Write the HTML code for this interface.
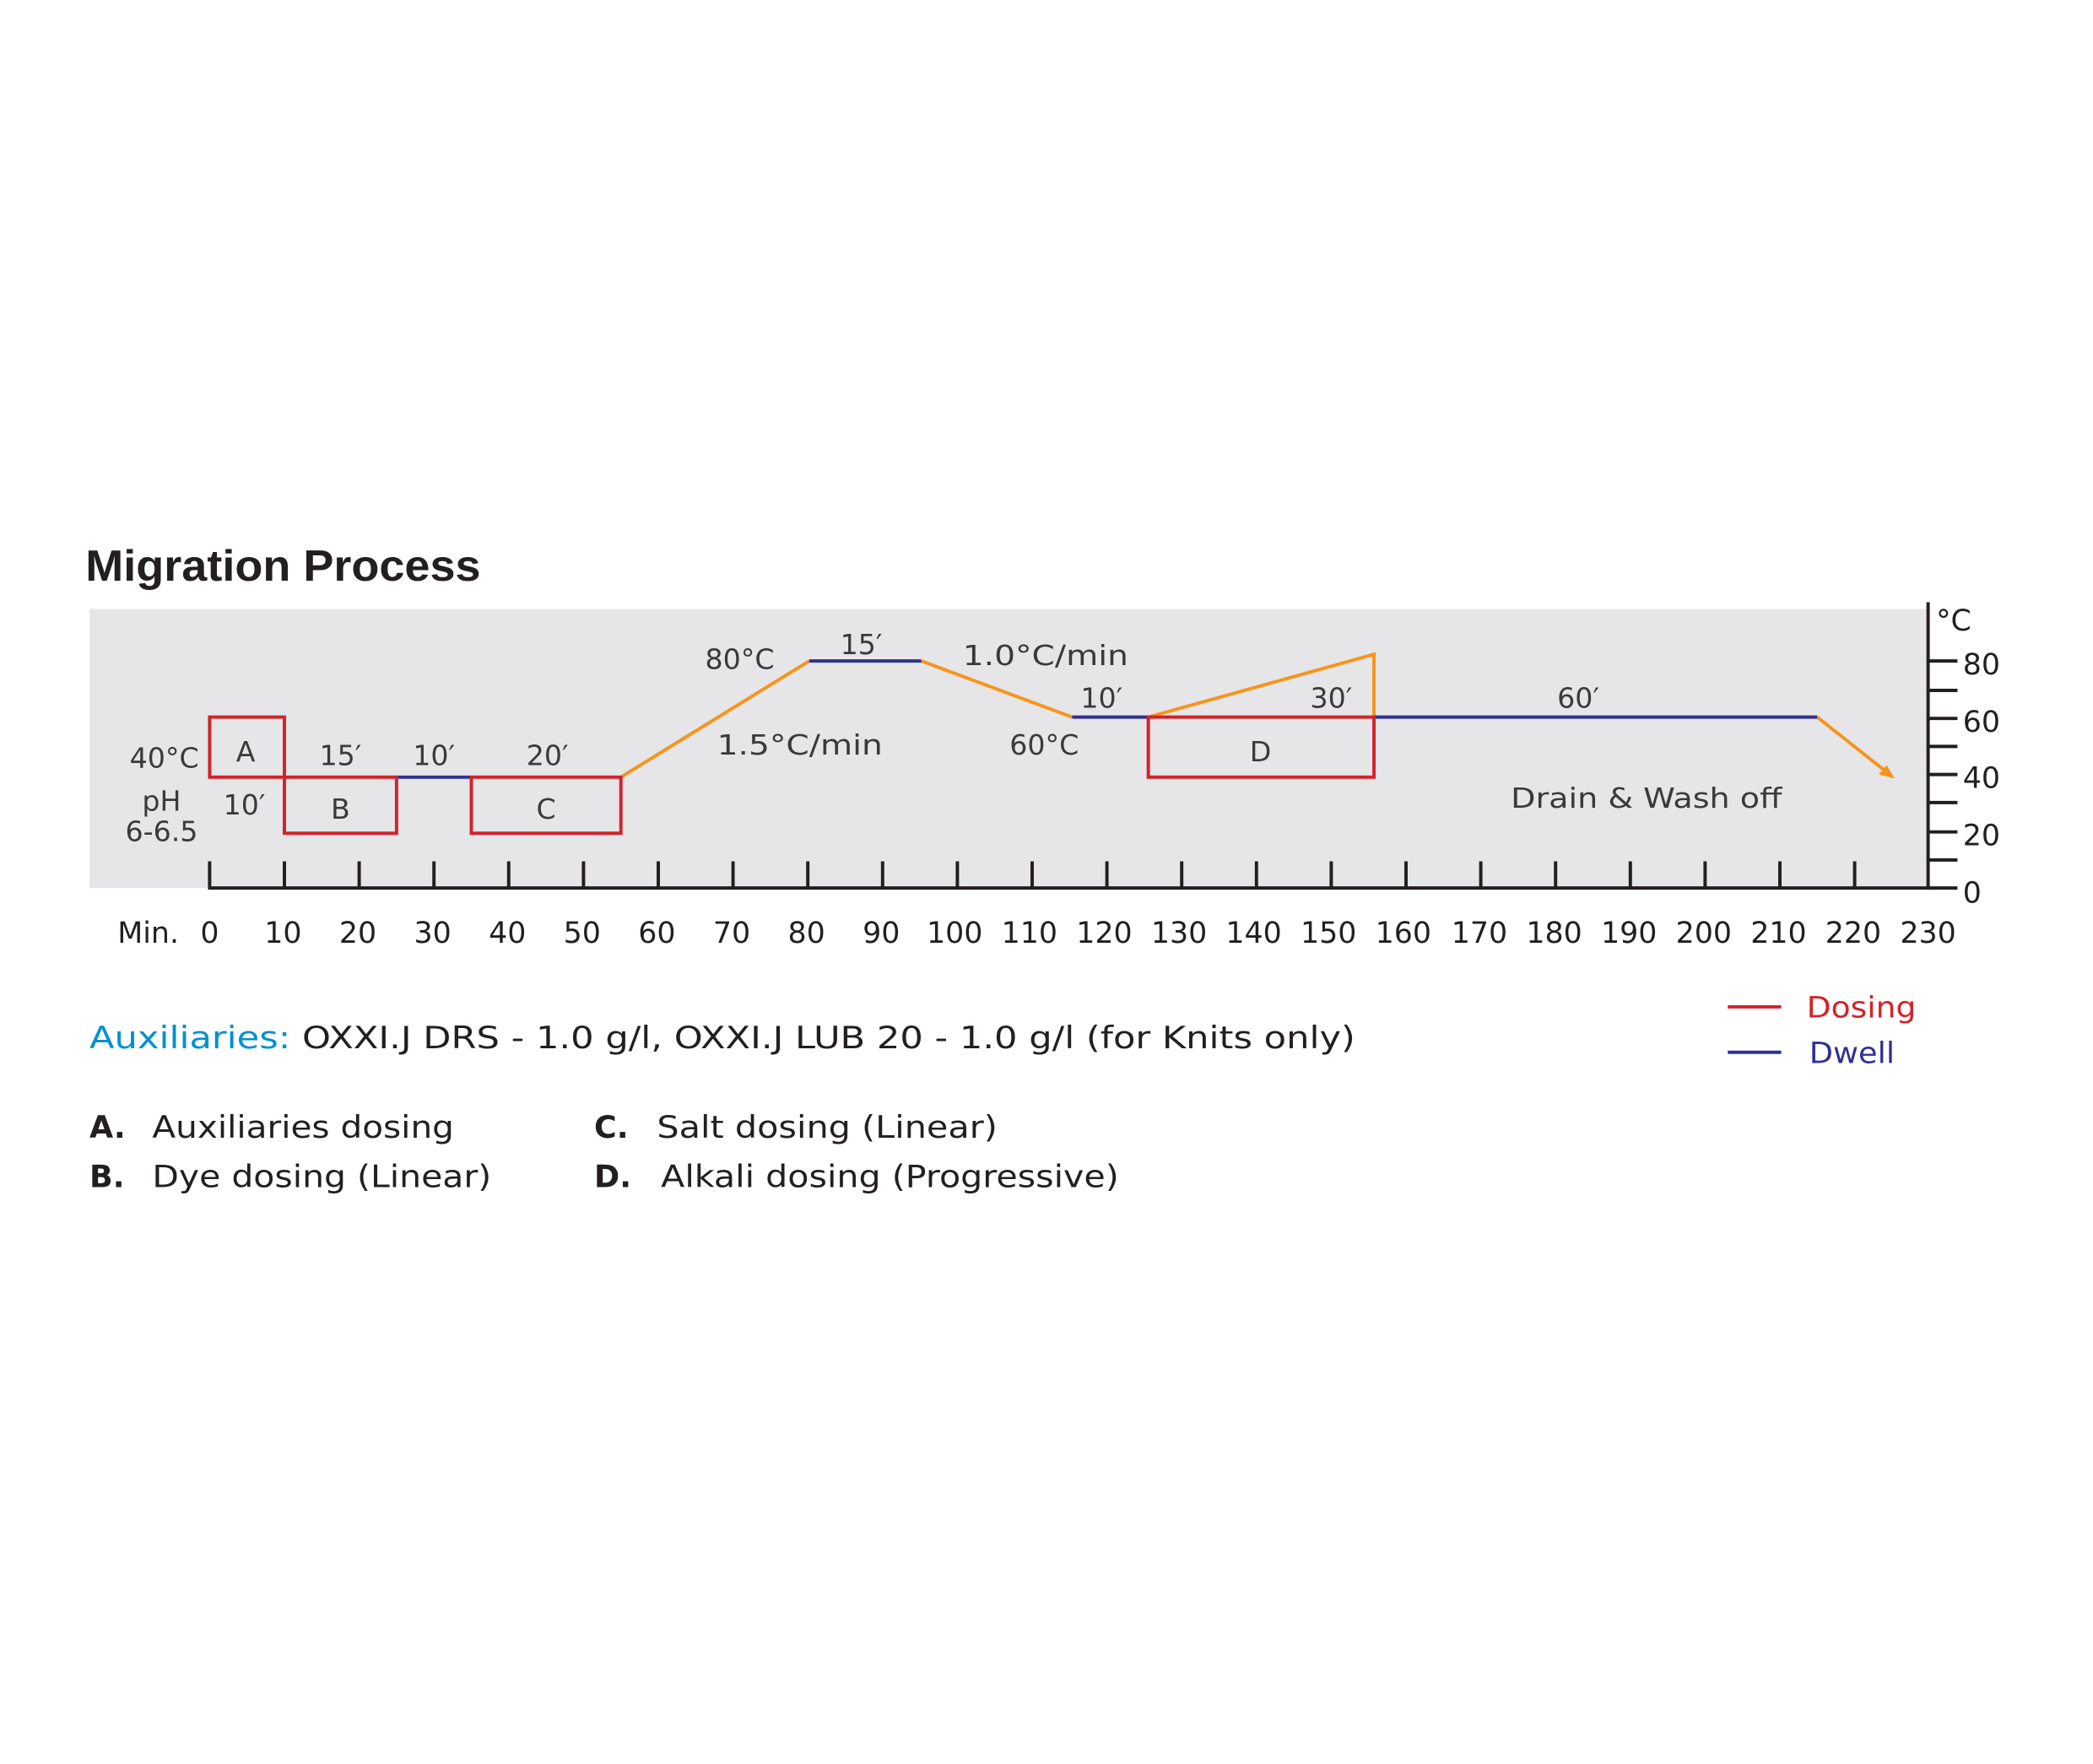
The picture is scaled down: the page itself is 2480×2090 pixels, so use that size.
<!DOCTYPE html>
<html><head><meta charset="utf-8"><style>html,body{margin:0;padding:0;background:#fff}svg{display:block}</style></head>
<body>
<svg width="2480" height="2090" viewBox="0 0 1567.5 1321" preserveAspectRatio="none" xmlns="http://www.w3.org/2000/svg" font-family="'DejaVu Sans','Liberation Sans',sans-serif" fill="#222">
<rect width="1568" height="1321" fill="#fff"/>
<text x="64" y="435" font-family="'Liberation Sans',sans-serif" font-weight="bold" font-size="33" fill="#231f20" textLength="296" lengthAdjust="spacingAndGlyphs">Migration Process</text>
<rect x="67" y="456" width="1377" height="209" fill="#e6e6e8"/>
<g stroke="#231f20" stroke-width="2.5" fill="none">
<line x1="155.8" y1="665" x2="1445" y2="665"/>
<line x1="1444" y1="451" x2="1444" y2="666"/>
<path d="M157 645V665M213 645V665M269 645V665M325 645V665M381 645V665M437 645V665M493 645V665M549 645V665M605 645V665M661 645V665M717 645V665M773 645V665M829 645V665M885 645V665M941 645V665M997 645V665M1053 645V665M1109 645V665M1165 645V665M1221 645V665M1277 645V665M1333 645V665M1389 645V665"/>
<path d="M1444 665H1466M1444 644H1466M1444 623H1466M1444 601H1466M1444 580H1466M1444 559H1466M1444 538H1466M1444 517H1466M1444 495H1466"/>
</g>
<g font-size="22" fill="#231f20">
<text x="1450" y="472">°C</text>
<text x="1470" y="505">80</text><text x="1470" y="548">60</text><text x="1470" y="590">40</text><text x="1470" y="633">20</text><text x="1470" y="676">0</text>
</g>
<g font-size="22" fill="#231f20" text-anchor="middle">
<text x="111" y="706">Min.</text>
<text x="157" y="706">0</text><text x="212" y="706">10</text><text x="268" y="706">20</text><text x="324" y="706">30</text><text x="380" y="706">40</text><text x="436" y="706">50</text><text x="492" y="706">60</text><text x="548" y="706">70</text><text x="604" y="706">80</text><text x="660" y="706">90</text><text x="715" y="706">100</text><text x="771" y="706">110</text><text x="827" y="706">120</text><text x="883" y="706">130</text><text x="939" y="706">140</text><text x="995" y="706">150</text><text x="1051" y="706">160</text><text x="1108" y="706">170</text><text x="1164" y="706">180</text><text x="1220" y="706">190</text><text x="1276" y="706">200</text><text x="1332" y="706">210</text><text x="1388" y="706">220</text><text x="1444" y="706">230</text>
</g>
<g stroke="#f7941d" stroke-width="2.5" fill="none">
<polyline points="465,582 606,495"/>
<polyline points="690,495 803,537"/>
<polyline points="860,537 1029,490 1029,537"/>
<polyline points="1361,537 1414,579"/>
</g>
<polygon points="1419,583 1407,580 1413,573" fill="#f7941d"/>
<g stroke="#2e3192" stroke-width="2.5">
<line x1="297" y1="582" x2="353" y2="582"/>
<line x1="606" y1="495" x2="690" y2="495"/>
<line x1="803" y1="537" x2="860" y2="537"/>
<line x1="1029" y1="537" x2="1361" y2="537"/>
</g>
<g stroke="#d2232a" stroke-width="2.5" fill="none">
<rect x="157" y="537" width="56" height="45"/>
<rect x="213" y="582" width="84" height="42"/>
<rect x="353" y="582" width="112" height="42"/>
<rect x="860" y="537" width="169" height="45"/>
</g>
<g font-size="21" fill="#3a3a3a" text-anchor="middle">
<text x="184" y="570">A</text><text x="255" y="613">B</text><text x="409" y="613">C</text><text x="944" y="570">D</text>
<text x="123" y="575">40°C</text>
<text x="121" y="607">pH</text>
<text x="121" y="630">6-6.5</text>
<text x="183" y="610">10′</text>
<text x="255" y="573">15′</text>
<text x="325" y="573">10′</text>
<text x="410" y="573">20′</text>
<text x="554" y="501">80°C</text>
<text x="645" y="490">15′</text>
<text x="783" y="498" textLength="124" lengthAdjust="spacingAndGlyphs">1.0°C/min</text>
<text x="599" y="565" textLength="124" lengthAdjust="spacingAndGlyphs">1.5°C/min</text>
<text x="782" y="565">60°C</text>
<text x="825" y="530">10′</text>
<text x="997" y="530">30′</text>
<text x="1182" y="530">60′</text>
<text x="1233" y="605" textLength="203" lengthAdjust="spacingAndGlyphs">Drain &amp; Wash off</text>
</g>
<line x1="1294" y1="754" x2="1334" y2="754" stroke="#d2232a" stroke-width="2.5"/>
<line x1="1294" y1="788" x2="1334" y2="788" stroke="#2e3192" stroke-width="2.5"/>
<text x="1353" y="762" font-size="22" fill="#d2232a" textLength="82" lengthAdjust="spacingAndGlyphs">Dosing</text>
<text x="1355" y="796" font-size="22" fill="#2e3192" textLength="64" lengthAdjust="spacingAndGlyphs">Dwell</text>
<text x="67" y="785" font-size="23" fill="#231f20" textLength="948" lengthAdjust="spacingAndGlyphs"><tspan fill="#0091d0">Auxiliaries:</tspan> OXXI.J DRS - 1.0 g/l, OXXI.J LUB 20 - 1.0 g/l (for Knits only)</text>
<g font-size="23" fill="#231f20">
<text x="67" y="852" font-weight="bold">A.</text><text x="114" y="852" textLength="226" lengthAdjust="spacingAndGlyphs">Auxiliaries dosing</text>
<text x="67" y="889" font-weight="bold">B.</text><text x="114" y="889" textLength="254" lengthAdjust="spacingAndGlyphs">Dye dosing (Linear)</text>
<text x="445" y="852" font-weight="bold">C.</text><text x="492" y="852" textLength="255" lengthAdjust="spacingAndGlyphs">Salt dosing (Linear)</text>
<text x="445" y="889" font-weight="bold">D.</text><text x="495" y="889" textLength="343" lengthAdjust="spacingAndGlyphs">Alkali dosing (Progressive)</text>
</g>
</svg>
</body></html>
